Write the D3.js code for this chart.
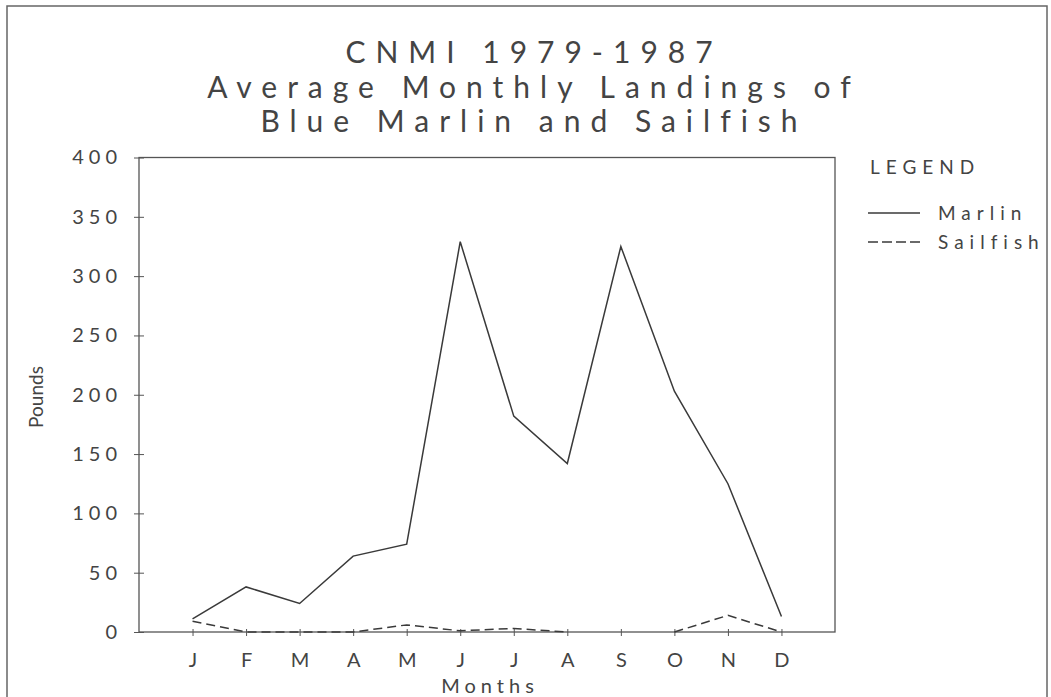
<!DOCTYPE html>
<html>
<head>
<meta charset="utf-8">
<script src="https://cdn.jsdelivr.net/npm/d3@7"></script>
<style>
  body { margin: 0; background: #fff; }
  svg text { font-family: Lato, "DejaVu Sans", sans-serif; fill: #444; }
</style>
</head>
<body>
<svg class="chart" width="1051" height="697"></svg>
<script>
const months = ["J", "F", "M", "A", "M", "J", "J", "A", "S", "O", "N", "D"]
const marlin = [11, 38, 24, 64, 74, 329, 182, 142, 325, 203, 125, 13]
const sailfish = [9, 0, 0, 0, 6, 1, 3, 0, null, 0, 14, 0]
const yTicks = [0, 50, 100, 150, 200, 250, 300, 350, 400]
const titleLines = ["CNMI 1979-1987", "Average Monthly Landings of", "Blue Marlin and Sailfish"]
const legendItems = [
  { name: "Marlin", dash: null },
  { name: "Sailfish", dash: "10,4" }
]

const svg = d3.select("svg.chart")
const ink = "#3a3a3a"

// outer frame of the figure
svg.append("rect")
  .attr("x", 7).attr("y", 6)
  .attr("width", 1040).attr("height", 700)
  .attr("fill", "none")
  .attr("stroke", "#666")
  .attr("stroke-width", 1.5)

const x = d3.scalePoint()
  .domain(d3.range(months.length))
  .range([139, 835])
  .padding(1)

const y = d3.scaleLinear()
  .domain([0, 400])
  .range([632, 157.5])

// plot box
svg.append("rect")
  .attr("x", 139).attr("y", y(400))
  .attr("width", 835 - 139).attr("height", y(0) - y(400))
  .attr("fill", "none")
  .attr("stroke", "#555")
  .attr("stroke-width", 1.3)

// title (letter-spacing adds a trailing gap, so nudge the centre right)
svg.append("g")
  .selectAll("text")
  .data(titleLines)
  .enter()
  .append("text")
  .attr("x", 534)
  .attr("y", (d, i) => 63 + i * 34.5)
  .attr("text-anchor", "middle")
  .attr("font-size", 30)
  .attr("letter-spacing", 10)
  .text(d => d)

// y axis
const yAxis = svg.append("g")
  .attr("transform", "translate(139,0)")
  .call(d3.axisLeft(y).tickValues(yTicks).tickSize(5).tickPadding(12))
yAxis.select(".domain").remove()
yAxis.selectAll(".tick line").attr("x1", -5).attr("x2", 5).attr("stroke", "#555")
yAxis.selectAll(".tick text")
  .attr("font-size", 20)
  .attr("letter-spacing", 5)
  .attr("fill", "#555")
  .attr("font-family", "Lato, sans-serif")

// x axis
const xAxis = svg.append("g")
  .attr("transform", `translate(0,${y(0)})`)
  .call(d3.axisBottom(x).tickFormat(i => months[i]).tickSize(4).tickPadding(17))
xAxis.select(".domain").remove()
xAxis.selectAll(".tick line").attr("y1", -3).attr("y2", 4).attr("stroke", "#555")
xAxis.selectAll(".tick text")
  .attr("font-size", 20)
  .attr("fill", "#555")
  .attr("font-family", "Lato, sans-serif")

// axis titles
svg.append("text")
  .attr("transform", "translate(43,397) rotate(-90)")
  .attr("text-anchor", "middle")
  .attr("font-size", 19)
  .text("Pounds")

svg.append("text")
  .attr("x", 490)
  .attr("y", 693)
  .attr("text-anchor", "middle")
  .attr("font-size", 20)
  .attr("letter-spacing", 5)
  .text("Months")

// series
const line = d3.line()
  .defined(d => d != null)
  .x((d, i) => x(i))
  .y(d => y(d))

svg.append("path")
  .datum(marlin)
  .attr("d", line)
  .attr("fill", "none")
  .attr("stroke", ink)
  .attr("stroke-width", 1.5)

svg.append("path")
  .datum(sailfish)
  .attr("d", line)
  .attr("fill", "none")
  .attr("stroke", ink)
  .attr("stroke-width", 1.5)
  .attr("stroke-dasharray", "9,5")

// legend
const legend = svg.append("g").attr("transform", "translate(868,0)")
legend.append("text")
  .attr("x", 2).attr("y", 174)
  .attr("font-size", 19)
  .attr("letter-spacing", 6)
  .text("LEGEND")

const legendRows = legend.selectAll("g.item")
  .data(legendItems)
  .enter()
  .append("g")
  .attr("class", "item")
  .attr("transform", (d, i) => `translate(0,${213 + i * 29})`)

legendRows.append("line")
  .attr("x1", 0).attr("x2", 52)
  .attr("stroke", ink)
  .attr("stroke-width", 1.4)
  .attr("stroke-dasharray", d => d.dash)

legendRows.append("text")
  .attr("x", 70).attr("y", 7)
  .attr("font-size", 19)
  .attr("letter-spacing", 6)
  .text(d => d.name)
</script>
</body>
</html>
